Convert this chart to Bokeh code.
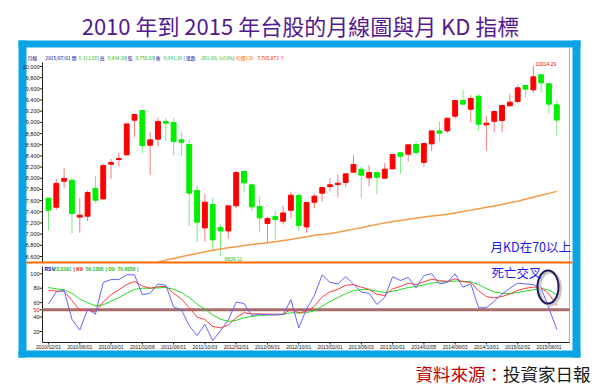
from bokeh.plotting import figure
from bokeh.models import Range1d, Label, BoxAnnotation, ColumnDataSource
from bokeh.core.properties import value
from bokeh.embed import file_html
from bokeh.resources import INLINE

# ---------------- data (monthly, 2010/02 .. 2015/07) ----------------
open_ = [7643, 7482, 7947, 7965, 7305, 7321, 7816, 7631, 8252, 8335,
         8419, 9039, 9212, 8592, 8699, 9016, 8998, 8687, 8604, 7780,
         7112, 7530, 7118, 7058, 7506, 8121, 7882, 7494, 7190, 7315,
         7232, 7428, 7691, 7130, 7572, 7733, 7852, 7888, 7924, 8109,
         8162, 8007, 8103, 8001, 8168, 8455, 8431, 8604, 8282, 8616,
         8848, 8848, 9111, 9391, 9236, 9469, 8956, 9021, 9033, 9296,
         9374, 9660, 9582, 9851, 9690, 9313.56]
high = [7650, 7989, 8180, 8007, 7643, 7780, 8037, 8258, 8347, 8455,
        8980, 9145, 9220, 8825, 9087, 9075, 9075, 8837, 8693, 7864,
        7721, 7655, 7172, 7510, 8132, 8125, 7885, 7679, 7315, 7416,
        7512, 7757, 7721, 7570, 7721, 7840, 8001, 8067, 8085, 8413,
        8210, 8240, 8105, 8276, 8430, 8460, 8605, 8663, 8625, 8850,
        9016, 9080, 9395, 9582, 9487, 9505, 9117, 9200, 9310, 9511,
        9672, 9665, 10014.29, 9855, 9695, 9404.30]
low = [7064, 7434, 7822, 7017, 7023, 7232, 7554, 7620, 7983, 8210,
       8410, 8735, 8449, 8061, 8568, 8657, 8413, 8395, 7142, 6856,
       6868, 6718, 6609.11, 6927, 7470, 7757, 7416, 7029, 6832, 6897,
       7172, 7285, 7064, 7023, 7464, 7584, 7763, 7661, 7852, 8091,
       7643, 7858, 7715, 7995, 8160, 8079, 8300, 8419, 8210, 8490,
       8657, 8813, 9057, 9320, 8998, 8854, 8490, 8825, 8819, 9290,
       9344, 9451, 9529, 9535, 9165, 8758.60]
close = [7428, 7906, 7995, 7369, 7340, 7745, 7607, 8228, 8282, 8353,
         8972, 9141, 8586, 8687, 9016, 8986, 8657, 8646, 7733, 7214,
         7572, 6897, 7058, 7506, 8103, 7918, 7488, 7291, 7279, 7261,
         7380, 7697, 7154, 7566, 7679, 7834, 7882, 7912, 8079, 8246,
         8055, 8103, 8019, 8162, 8425, 8395, 8598, 8461, 8622, 8848,
         8807, 9075, 9391, 9326, 9427, 8968, 8986, 9194, 9302, 9362,
         9618, 9594, 9815, 9708, 9326, 9041.30]

# moving average line (visible from month index 14 on)
ma_start = 14
ma = [6500, 6535, 6565, 6595, 6625, 6655, 6685, 6712, 6735, 6755,
      6775, 6795, 6815, 6830, 6845, 6865, 6885, 6905, 6930, 6955,
      6980, 6995, 7010, 7035, 7060, 7090, 7115, 7145, 7175, 7200,
      7225, 7245, 7265, 7285, 7305, 7325, 7340, 7355, 7380, 7405,
      7430, 7455, 7480, 7505, 7530, 7560, 7590, 7625, 7660, 7695,
      7730, 7765.07]

rsv = [58, 75, 77, 37, 22, 51, 44, 88, 92, 92,
       98.6, 98.6, 71, 73, 86, 84, 54, 50, 28, 14.4,
       29.7, 7.5, 21, 36, 60.7, 59, 42, 44, 43, 43,
       43.6, 64, 25, 51, 70, 98.6, 88, 86, 96, 86,
       74.5, 73, 57.5, 67.6, 96, 90.7, 95, 80.6, 97.7, 100,
       86, 88, 100, 81.5, 86, 53, 53, 62, 72, 80,
       87, 86, 85, 80, 52, 23.03]
k9 = [77, 76, 76, 63, 49, 50, 47, 61, 71, 78,
      85, 89.5, 83, 80, 82, 82.5, 73, 65, 53, 40,
      36.5, 27, 25, 29, 39, 46, 44.5, 44.5, 44, 44,
      44, 50.5, 46, 48, 55, 68, 75, 78.5, 84, 85,
      81.5, 78.5, 71.5, 70, 79, 82.5, 87, 85, 89, 92.5,
      90.5, 89.5, 93, 89, 88, 76.5, 68.5, 66.5, 68.5, 72,
      77, 80, 81.5, 81, 72, 56.13]
d9 = [81, 79, 78, 73, 65, 60, 55.5, 57, 62, 67,
      73, 78.5, 80, 80, 80.5, 81, 78.5, 74, 67, 58,
      51, 43, 37, 34, 35.5, 39, 41, 42, 43, 43.3,
      43.5, 46, 45.5, 46, 49, 55, 61.5, 67, 72.5, 76.5,
      78, 78, 76, 74, 76, 78, 81, 82.5, 84.5, 87,
      88.5, 89, 90, 89.5, 89, 85, 79.5, 75, 73, 72.5,
      74, 76, 78, 79.5, 77.5, 70.61]

tick_idx = [0, 4, 8, 12, 16, 20, 24, 28, 32, 36, 40, 44, 48, 52, 56, 60, 64]
tick_labels = ["2010/02/01", "2010/06/01", "2010/10/01", "2011/02/08", "2011/06/01",
               "2011/10/03", "2012/02/01", "2012/06/01", "2012/10/01", "2013/02/01",
               "2013/06/03", "2013/10/01", "2014/02/05", "2014/06/03", "2014/10/01",
               "2015/02/02", "2015/06/01"]
price_ticks = [6600, 6800, 7000, 7200, 7400, 7600, 7800, 8000, 8200,
               8400, 8600, 8800, 9000, 9200, 9400, 9600, 9800, 10000]
kd_ticks = [20, 40, 60, 80, 100]
kd_mid = 50

# ---------------- geometry helpers (page pixels -> data units) ----------------
WID, HEI = 600, 389
FL, FR = 42, 569            # plot area left / right
X0, DX = 48.0, 7.82         # first month position, pixels per month


def xd(sx):
    return (sx - X0) / DX


PY = 190.0 / 3400.0         # pixels per index point


def py(sy):
    return 10000 - (sy - 66) / PY


KY = 57.7 / 80.0            # pixels per KD unit


def ky(sy):
    return 100 - (sy - 273.3) / KY


BLUE = "#0AA3E6"
CJK = "Noto Sans CJK TC"
SMALL = "Liberation Sans"
RED, GREEN = "#FF0000", "#00EE00"
AX = "#222222"

p = figure(width=WID, height=HEI, x_range=Range1d(xd(0), xd(WID)),
           y_range=Range1d(py(HEI), py(0)), output_backend="svg", toolbar_location=None,
           x_axis_location=None, y_axis_location=None, min_border=0)
p.extra_y_ranges = {"kd": Range1d(ky(HEI), ky(0))}
p.background_fill_color = "white"
p.border_fill_color = "white"
p.outline_line_color = None
p.grid.visible = False

# ---------------- blue frame ----------------
for l, r, t, b in [(18, 580, 40, 47), (18, 580, 350, 357), (18, 26, 40, 357), (572, 580, 40, 357)]:
    p.add_layout(BoxAnnotation(left=xd(l), right=xd(r), top=py(t), bottom=py(b),
                               fill_color=BLUE, fill_alpha=1, line_color=None, level="underlay"))

# title
p.add_layout(Label(x=xd(300), y=py(24), text="2010 年到 2015 年台股的月線圖與月 KD 指標",
                   text_align="center", text_baseline="middle", text_font=CJK,
                   text_font_size="22px", text_color="#54198F"))

# ---------------- price panel axes ----------------
p.segment(x0=[xd(FL)], y0=[py(62)], x1=[xd(FL)], y1=[py(262)], line_color=AX, line_width=1)
p.segment(x0=[xd(FL - 3)] * len(price_ticks), y0=price_ticks, x1=[xd(FL)] * len(price_ticks),
          y1=price_ticks, line_color=AX, line_width=1)
p.text(x=[xd(FL - 3)] * len(price_ticks), y=price_ticks, text=[f"{v:,}" for v in price_ticks],
       text_align="right", text_baseline="middle", text_font=value(SMALL),
       text_font_size=value("5.5px"), text_color="#111111")
# right edge of plot area
p.segment(x0=[xd(FR)], y0=[py(48)], x1=[xd(FR)], y1=[py(342)], line_color="#B0B0B0", line_width=1)

# ---------------- candles and average ----------------
xs = list(range(len(close)))
up = [c >= o for o, c in zip(open_, close)]
src = ColumnDataSource(dict(
    x=xs, o=open_, h=high, l=low, c=close,
    top=[max(o, c) for o, c in zip(open_, close)],
    bottom=[min(o, c) for o, c in zip(open_, close)],
    col=[RED if u else GREEN for u in up],
    wick=["#F57C7C" if u else "#7DEB7D" for u in up],
))
p.segment(x0="x", y0="l", x1="x", y1="h", line_color="wick", line_width=1, source=src)
p.vbar(x="x", top="top", bottom="bottom", width=0.62, fill_color="col",
       line_color="col", line_width=1, source=src)
p.line(x=list(range(ma_start, ma_start + len(ma))), y=ma, line_color="#F39A45", line_width=1.5)

# header info line
NAVY, HG, ORG = "#000088", "#13B513", "#FF6A00"
header = [(27, "月線", NAVY), (45, "2015/07/01 開", NAVY), (78, "9,313.56", HG),
          (97, "| 高", NAVY), (107, "9,404.30", HG), (125, "| 低", NAVY),
          (135, "8,758.60", HG), (153, "| 收", NAVY), (163, "9,041.30", HG),
          (183, "| 漲跌", NAVY), (199, "-281.00(-3.03%)", HG),
          (233, "| 均價120", ORG), (257, "7,765.072 ↑", RED)]
for sx, t, c in header:
    p.add_layout(Label(x=xd(sx), y=py(57), text=t, text_align="left", text_baseline="middle",
                       text_font=CJK, text_font_size="4.8px", text_color=c))

p.add_layout(Label(x=xd(535), y=py(63), text=f"{max(high):.2f}", text_align="left",
                   text_baseline="middle", text_font=SMALL, text_font_size="5px", text_color=RED))
p.add_layout(Label(x=xd(224), y=py(258.5), text=f"{min(low):.2f}", text_align="left",
                   text_baseline="middle", text_font=SMALL, text_font_size="5px", text_color="#22BB22"))
p.add_layout(Label(x=xd(490), y=py(245.5), text="月KD在70以上", text_align="left",
                   text_baseline="middle", text_font=CJK, text_font_size="12.5px", text_color="#1B1BE6"))

# orange separator
p.add_layout(BoxAnnotation(left=xd(26), right=xd(572), top=py(261), bottom=py(263),
                           fill_color="#FF6A00", fill_alpha=1, line_color=None))

# ---------------- KD panel ----------------
p.segment(x0=[xd(FL)], y0=[ky(266)], x1=[xd(FL)], y1=[ky(342)], line_color=AX, line_width=1,
          y_range_name="kd")
kd_all = kd_ticks + [kd_mid]
p.segment(x0=[xd(FL - 3)] * len(kd_all), y0=kd_all, x1=[xd(FL)] * len(kd_all), y1=kd_all,
          line_color=AX, line_width=1, y_range_name="kd")
p.text(x=[xd(FL - 3)] * len(kd_ticks), y=kd_ticks, text=[str(v) for v in kd_ticks],
       text_align="right", text_baseline="middle", text_font=value(SMALL),
       text_font_size=value("5.5px"), text_color="#111111", y_range_name="kd")
p.text(x=[xd(FL - 3)], y=[kd_mid], text=[str(kd_mid)], text_align="right", text_baseline="middle",
       text_font=value(SMALL), text_font_size=value("5.5px"), text_color="#E02020", y_range_name="kd")
# x axis
p.segment(x0=[xd(FL)], y0=[ky(342)], x1=[xd(FR)], y1=[ky(342)], line_color=AX, line_width=1,
          y_range_name="kd")
p.segment(x0=tick_idx, y0=[ky(342)] * len(tick_idx), x1=tick_idx, y1=[ky(344)] * len(tick_idx),
          line_color=AX, line_width=1, y_range_name="kd")
p.text(x=tick_idx, y=[ky(346)] * len(tick_idx), text=tick_labels, text_align="center",
       text_baseline="middle", text_font=value(SMALL), text_font_size=value("5px"),
       text_color="#111111", y_range_name="kd")

# 50 line
p.segment(x0=[xd(FL)], y0=[kd_mid], x1=[xd(FR)], y1=[kd_mid], line_color="#A86C6C",
          line_width=3, y_range_name="kd")
p.line(x=xs, y=d9, line_color="#22DD22", line_width=1, y_range_name="kd")
p.line(x=xs, y=k9, line_color="#FF3B3B", line_width=1, y_range_name="kd")
p.line(x=xs, y=rsv, line_color="#6464FF", line_width=1, y_range_name="kd")

legend = [(44, "RSV", "#0000CC"), (53, "23.0291", "#22BB22"),
          (73, "| K9", RED), (85, "56.1306", "#22BB22"), (105, "| D9", "#22BB22"),
          (117, "70.6056 |", "#22BB22")]
for sx, t, c in legend:
    p.add_layout(Label(x=xd(sx), y=ky(268), y_range_name="kd", text=t, text_align="left",
                       text_baseline="middle", text_font=SMALL, text_font_size="5px",
                       text_font_style="bold", text_color=c))

# death-cross annotation
p.add_layout(Label(x=xd(491), y=ky(272), y_range_name="kd", text="死亡交叉", text_align="left",
                   text_baseline="middle", text_font=CJK, text_font_size="12.5px", text_color="#1B1BE6"))
ex, ey = xd(547.5), ky(286.5)
p.ellipse(x=[ex + 2.0 / DX], y=[ey - 1.5 / KY], width=21 / DX, height=33 / KY,
          fill_color=None, line_color="#C8C8C8", line_width=3, y_range_name="kd")
p.ellipse(x=[ex], y=[ey], width=21 / DX, height=33 / KY,
          fill_color=None, line_color="#1C1C5E", line_width=2, y_range_name="kd")

# source
p.add_layout(Label(x=xd(590), y=py(372.5), text="投資家日報", text_align="right",
                   text_baseline="middle", text_font=CJK, text_font_size="17.5px", text_color="#1A1A1A"))
p.add_layout(Label(x=xd(502.5), y=py(372.5), text="資料來源：", text_align="right",
                   text_baseline="middle", text_font=CJK, text_font_size="17.5px", text_color="#C00000"))

open("out.html", "w").write(file_html(p, INLINE))
